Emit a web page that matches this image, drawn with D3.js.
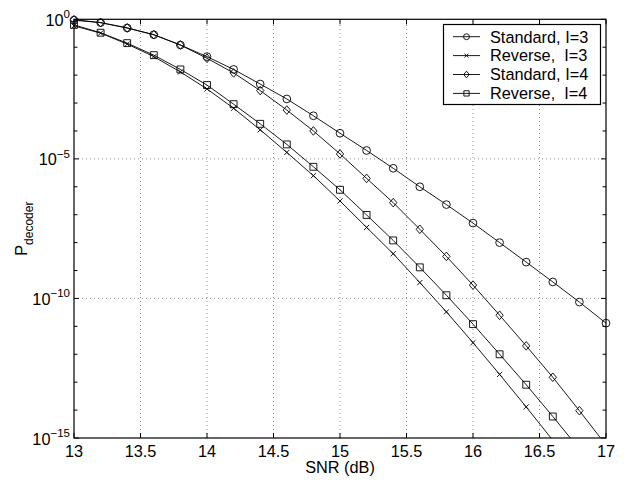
<!DOCTYPE html>
<html>
<head>
<meta charset="utf-8">
<script src="https://cdn.jsdelivr.net/npm/d3@7"></script>
<style>
  body { margin: 0; background: #fff; }
  svg { display: block; font-family: "Liberation Sans", Arial, sans-serif; }
</style>
</head>
<body>
<svg id="chart" width="632" height="484"></svg>
<script>
// SNR points (dB)
const snr = [13, 13.2, 13.4, 13.6, 13.8, 14, 14.2, 14.4, 14.6, 14.8, 15,
             15.2, 15.4, 15.6, 15.8, 16, 16.2, 16.4, 16.6, 16.8, 17];

const standard3 = [0.93, 0.76, 0.49, 0.28, 0.12, 4.6e-2, 1.6e-2, 4.8e-3, 1.4e-3, 3.5e-4, 8.3e-5,
                   2.0e-5, 4.6e-6, 1.0e-6, 2.3e-7, 5.0e-8, 1.0e-8, 2.0e-9, 3.9e-10, 7.4e-11, 1.3e-11];
const reverse3  = [0.58, 0.32, 0.13, 4.6e-2, 1.3e-2, 3.2e-3, 6.5e-4, 1.1e-4, 1.7e-5, 2.5e-6, 3.1e-7,
                   3.5e-8, 4.0e-9, 3.7e-10, 3.3e-11, 2.6e-12, 1.9e-13, 1.3e-14, 8.3e-16];
const standard4 = [0.97, 0.76, 0.49, 0.28, 0.12, 4.0e-2, 1.2e-2, 2.8e-3, 5.6e-4, 1.0e-4, 1.5e-5,
                   2.0e-6, 2.7e-7, 3.0e-8, 3.2e-9, 3.0e-10, 2.5e-11, 2.0e-12, 1.5e-13, 9.5e-15, 5.6e-16];
const reverse4  = [0.63, 0.33, 0.14, 5.2e-2, 1.6e-2, 4.4e-3, 9.1e-4, 1.8e-4, 3.3e-5, 5.2e-6, 7.8e-7,
                   9.8e-8, 1.2e-8, 1.3e-9, 1.3e-10, 1.2e-11, 1.0e-12, 8.1e-14, 5.9e-15, 4.0e-16];

const seriesNames = ["Standard, I=3", "Reverse,  I=3", "Standard, I=4", "Reverse,  I=4"];
const seriesMarkers = ["circle", "cross", "diamond", "square"];
const seriesValues = [standard3, reverse3, standard4, reverse4];

const xTicks = [13, 13.5, 14, 14.5, 15, 15.5, 16, 16.5, 17];
const yMajor = [0, -5, -10, -15];   // exponents with labels + grid

const width = 632, height = 484;
const margin = {top: 19.3, right: 26, bottom: 46, left: 74};
const fs = 16.3;

const svg = d3.select("#chart");

const x = d3.scaleLinear()
    .domain([13, 17])
    .range([margin.left, width - margin.right]);

const y = d3.scaleLog()
    .domain([1e-15, 1])
    .range([height - margin.bottom, margin.top]);

const x0 = margin.left, x1 = width - margin.right;
const y0 = height - margin.bottom, y1 = margin.top;

// grid
const grid = svg.append("g")
    .attr("stroke", "#777")
    .attr("stroke-width", 0.8)
    .attr("stroke-dasharray", "1,3");
grid.selectAll(".vx")
  .data(xTicks.slice(1, -1))
  .join("line")
    .attr("x1", d => x(d)).attr("x2", d => x(d))
    .attr("y1", y0).attr("y2", y1);
grid.selectAll(".hy")
  .data(yMajor.slice(1, -1))
  .join("line")
    .attr("x1", x0).attr("x2", x1)
    .attr("y1", d => y(Math.pow(10, d))).attr("y2", d => y(Math.pow(10, d)));

// ticks (inward, all four sides)
const tickLen = 5;
const decades = d3.range(0, -16, -1);
const ticks = svg.append("g").attr("stroke", "#000").attr("stroke-width", 1);
xTicks.forEach(t => {
  ticks.append("line").attr("x1", x(t)).attr("x2", x(t)).attr("y1", y0).attr("y2", y0 - tickLen);
  ticks.append("line").attr("x1", x(t)).attr("x2", x(t)).attr("y1", y1).attr("y2", y1 + tickLen);
});
decades.forEach(e => {
  const yy = y(Math.pow(10, e));
  const len = yMajor.includes(e) ? tickLen : 3.5;
  ticks.append("line").attr("x1", x0).attr("x2", x0 + len).attr("y1", yy).attr("y2", yy);
  ticks.append("line").attr("x1", x1).attr("x2", x1 - len).attr("y1", yy).attr("y2", yy);
});

// frame
svg.append("rect")
    .attr("x", x0).attr("y", y1)
    .attr("width", x1 - x0).attr("height", y0 - y1)
    .attr("fill", "none").attr("stroke", "#000").attr("stroke-width", 1.2);

// tick labels
svg.append("g")
  .selectAll("text")
  .data(xTicks)
  .join("text")
    .attr("x", d => x(d))
    .attr("y", y0 + 18.5)
    .attr("text-anchor", "middle")
    .attr("font-size", fs)
    .text(d => d);

const yl = svg.append("g")
  .selectAll("text")
  .data(yMajor)
  .join("text")
    .attr("x", 70)
    .attr("y", d => y(Math.pow(10, d)) + 6.5)
    .attr("text-anchor", "end")
    .attr("font-size", fs);
yl.append("tspan").text("10");
yl.append("tspan")
    .attr("font-size", 11.5)
    .attr("dy", -7.5)
    .text(d => d === 0 ? "0" : "\u2212" + Math.abs(d));

// axis labels
svg.append("text")
    .attr("x", (x0 + x1) / 2)
    .attr("y", 473)
    .attr("text-anchor", "middle")
    .attr("font-size", fs)
    .text("SNR (dB)");

const ylab = svg.append("text")
    .attr("transform", `translate(27,${(y0 + y1) / 2}) rotate(-90)`)
    .attr("text-anchor", "middle")
    .attr("font-size", fs);
ylab.append("tspan").text("P");
ylab.append("tspan").attr("font-size", 12).attr("dy", 6).text("decoder");

// curves
svg.append("clipPath").attr("id", "clip")
  .append("rect")
    .attr("x", x0 - 6).attr("y", y1 - 6)
    .attr("width", x1 - x0 + 12).attr("height", y0 - y1 + 6);

function markerPath(type, s) {
  const p = d3.path();
  if (type === "circle") {
    p.moveTo(s * 0.9, 0); p.arc(0, 0, s * 0.9, 0, 2 * Math.PI);
  } else if (type === "diamond") {
    p.moveTo(0, -s); p.lineTo(s * 0.85, 0); p.lineTo(0, s); p.lineTo(-s * 0.85, 0); p.closePath();
  } else if (type === "square") {
    const h = s * 0.8;
    p.rect(-h, -h, 2 * h, 2 * h);
  } else {
    const h = s * 0.6;
    p.moveTo(-h, -h); p.lineTo(h, h); p.moveTo(-h, h); p.lineTo(h, -h);
  }
  return p.toString();
}

const line = d3.line()
    .x(d => x(d[0]))
    .y(d => y(d[1]));

const plot = svg.append("g").attr("clip-path", "url(#clip)");
seriesValues.forEach((vals, i) => {
  const pts = vals.map((v, j) => [snr[j], v]);
  plot.append("path")
      .datum(pts)
      .attr("fill", "none")
      .attr("stroke", "#000")
      .attr("stroke-width", 0.9)
      .attr("d", line);
  plot.append("g")
    .selectAll("path")
    .data(pts.filter(d => y(d[1]) <= y0 + 1))
    .join("path")
      .attr("transform", d => `translate(${x(d[0])},${y(d[1])})`)
      .attr("d", markerPath(seriesMarkers[i], 4.3))
      .attr("fill", "none")
      .attr("stroke", "#000")
      .attr("stroke-width", 0.9);
});

// legend
const lg = svg.append("g");
lg.append("rect")
    .attr("x", 443.5).attr("y", 24.5)
    .attr("width", 157).attr("height", 80)
    .attr("fill", "#fff").attr("stroke", "#000").attr("stroke-width", 1.2);
seriesNames.forEach((name, i) => {
  const ly = 36.7 + i * 18.9;
  lg.append("line")
      .attr("x1", 453).attr("x2", 480).attr("y1", ly).attr("y2", ly)
      .attr("stroke", "#000").attr("stroke-width", 0.9);
  lg.append("path")
      .attr("transform", `translate(466.5,${ly})`)
      .attr("d", markerPath(seriesMarkers[i], 3.3))
      .attr("fill", "none").attr("stroke", "#000").attr("stroke-width", 0.9);
  lg.append("text")
      .attr("x", 490).attr("y", ly + 5.8)
      .attr("font-size", fs)
      .attr("xml:space", "preserve")
      .style("white-space", "pre")
      .text(name);
});
</script>
</body>
</html>
